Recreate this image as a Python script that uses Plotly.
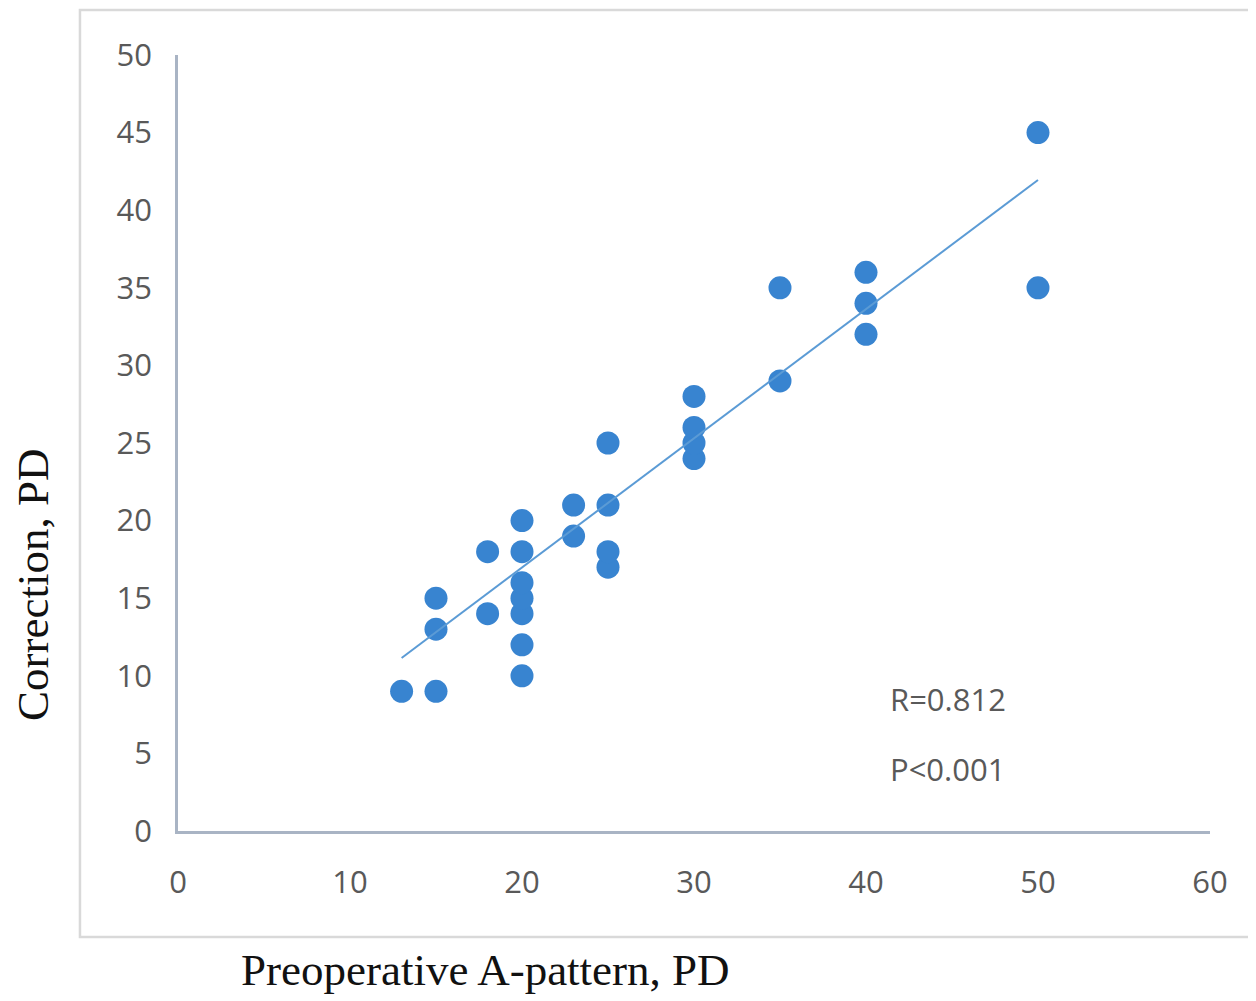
import plotly.graph_objects as go

# Data
preop_x = [13, 15, 15, 15, 18, 18, 20, 20, 20, 20, 20, 20, 20, 23, 23,
           25, 25, 25, 25, 30, 30, 30, 30, 35, 35, 40, 40, 40, 50, 50]
correction_y = [9, 9, 13, 15, 14, 18, 10, 12, 14, 15, 16, 18, 20, 19, 21,
                17, 18, 21, 25, 24, 25, 26, 28, 29, 35, 32, 34, 36, 35, 45]
trend_x = [13, 50]
trend_y = [11.15, 41.95]
stats_text = ["R=0.812", "P<0.001"]
stats_y = [8.5, 4.0]

tick_font = dict(family="Open Sans, Noto Sans, sans-serif", size=31, color="#595959")
serif = "Liberation Serif, Times New Roman, serif"

fig = go.Figure()
fig.add_trace(go.Scatter(
    x=preop_x, y=correction_y, mode="markers",
    marker=dict(size=23, color="#3884D0", line=dict(width=0)),
    showlegend=False, hoverinfo="x+y"))
fig.add_trace(go.Scatter(
    x=trend_x, y=trend_y, mode="lines",
    line=dict(color="#5B9BD5", width=2),
    showlegend=False, hoverinfo="skip"))

fig.update_layout(
    width=1256, height=1001,
    margin=dict(l=170, r=54, t=47, b=178),
    paper_bgcolor="white", plot_bgcolor="white",
    xaxis=dict(range=[0, 60], dtick=10, tick0=0, showgrid=False, zeroline=False,
               showline=True, linecolor="#A9B4C4", linewidth=2.5,
               ticks="", tickfont=tick_font, ticklabelstandoff=22),
    yaxis=dict(range=[0, 50], dtick=5, tick0=0, showgrid=False, zeroline=False,
               showline=True, linecolor="#A9B4C4", linewidth=2.5,
               ticks="", tickfont=tick_font, ticklabelstandoff=17),
    shapes=[dict(type="rect", xref="paper", yref="paper",
                 x0=-0.095, x1=1.1, y0=-0.1366, y1=1.058,
                 line=dict(color="#D9D9D9", width=2.5), fillcolor="rgba(0,0,0,0)",
                 layer="below")],
)

for t, yv in zip(stats_text, stats_y):
    fig.add_annotation(x=41.3, y=yv, xref="x", yref="y", text=t, showarrow=False,
                       xanchor="left", yanchor="middle", font=tick_font)

fig.add_annotation(text="Preoperative A-pattern, PD", xref="paper", yref="paper",
                   x=(485 - 178) / 1032, y=(831 - 970) / 776, showarrow=False,
                   xanchor="center", yanchor="middle",
                   font=dict(family=serif, size=45, color="#111111"))
fig.add_annotation(text="Correction, PD", xref="paper", yref="paper",
                   x=(33 - 178) / 1032, y=(831 - 585) / 776, showarrow=False,
                   textangle=-90, xanchor="center", yanchor="middle",
                   font=dict(family=serif, size=45, color="#111111"))

fig.write_html("out.html")
